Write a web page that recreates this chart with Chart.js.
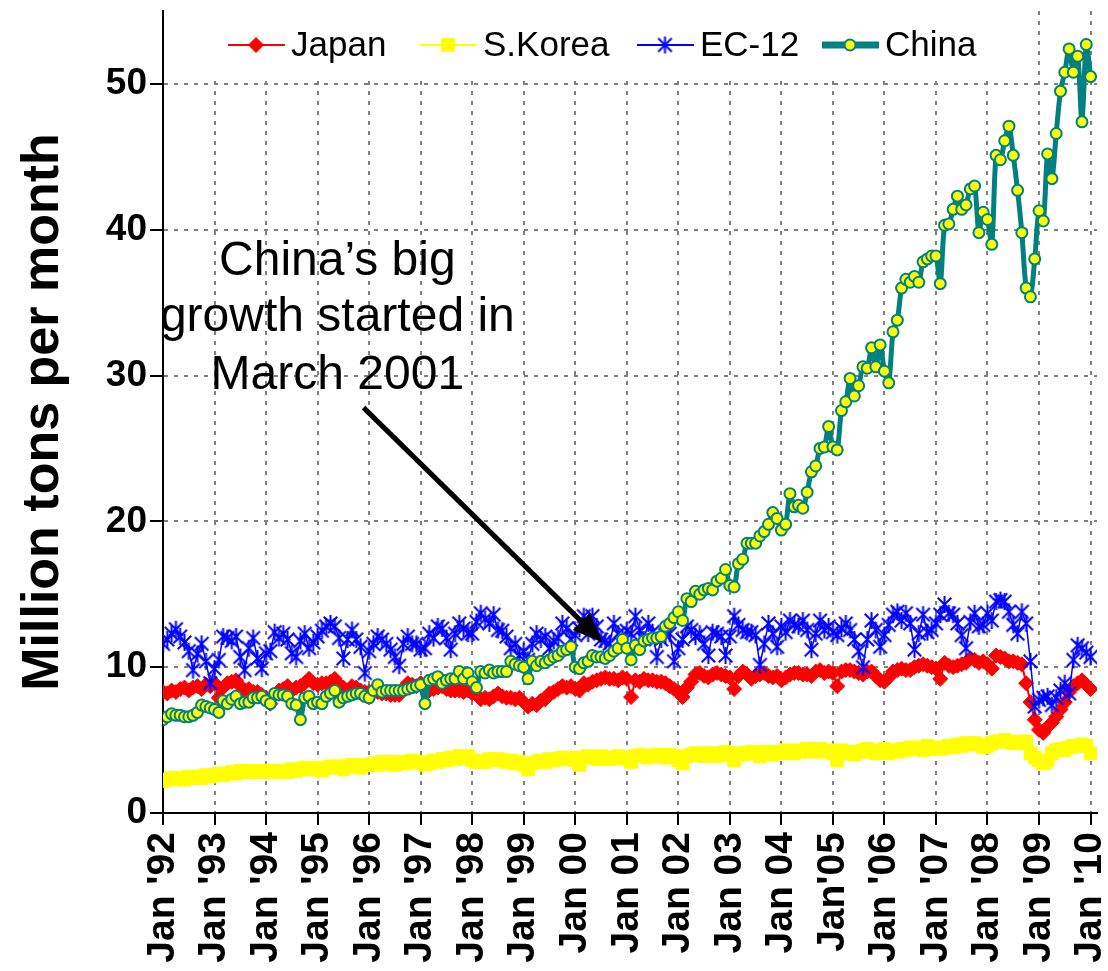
<!DOCTYPE html>
<html>
<head>
<meta charset="utf-8">
<script src="https://cdn.jsdelivr.net/npm/chart.js@4.4.1/dist/chart.umd.min.js"></script>
<style>
  html, body { margin: 0; padding: 0; background: #ffffff; }
  canvas { display: block; }
</style>
</head>
<body>
<canvas id="chart" width="1108" height="971"></canvas>
<script>
// Monthly steel output, Jan 1992 .. Jan 2010 (one value per month, 217 points)
const FONT = "'Liberation Sans', Arial, sans-serif";

const tickLabels = [
  "Jan '92", "Jan '93", "Jan '94", "Jan '95", "Jan '96", "Jan '97", "Jan '98",
  "Jan '99", "Jan 00", "Jan 01", "Jan 02", "Jan 03", "Jan 04", "Jan'05",
  "Jan '06", "Jan '07", "Jan '08", "Jan '09", "Jan '10",
];
const yTicks = [0, 10, 20, 30, 40, 50];
const seriesNames = ["Japan", "S.Korea", "EC-12", "China"];

const japan = [
  8.3, 8.2, 8.4, 8.3, 8.5, 8.6, 8.4, 8.6, 8.7, 8.5, 8.8, 8.7,
  8.9, 7.9, 8.6, 8.9, 9.0, 9.1, 8.7, 8.4, 8.5, 8.3, 8.3, 8.1,
  7.9, 7.5, 8.1, 8.4, 8.5, 8.7, 8.4, 8.6, 8.7, 8.9, 9.2, 8.9,
  8.8, 8.9, 8.9, 9.0, 9.2, 8.8, 8.6, 8.4, 8.7, 8.6, 8.4, 8.3,
  8.3, 8.4, 8.3, 8.2, 8.2, 8.1, 8.1, 8.1, 8.5, 8.9, 8.8, 8.7,
  8.9, 8.6, 8.4, 8.5, 8.6, 8.7, 8.5, 8.4, 8.4, 8.4, 8.3, 8.4,
  8.2, 8.1, 7.8, 7.9, 7.8, 8.0, 8.2, 8.0, 7.9, 7.9, 7.8, 7.9,
  7.6, 7.3, 7.5, 7.4, 7.7, 7.8, 8.2, 8.3, 8.5, 8.7, 8.6, 8.7,
  8.5, 8.4, 8.9, 8.8, 9.0, 9.1, 9.2, 9.3, 9.2, 9.2, 9.1, 9.3,
  9.2, 7.95, 9.1, 9.0, 9.2, 9.1, 9.1, 9.0, 9.0, 8.9, 8.7, 8.5,
  8.3, 7.95, 8.6, 9.0, 9.5, 9.6, 9.4, 9.3, 9.5, 9.6, 9.5, 9.4,
  9.3, 8.5, 9.4, 9.7, 9.5, 9.2, 9.4, 9.5, 9.6, 9.4, 9.3, 9.4,
  9.1, 9.3, 9.5, 9.6, 9.6, 9.5, 9.5, 9.4, 9.7, 9.8, 9.6, 9.7,
  9.6, 8.7, 9.7, 9.8, 9.8, 9.7, 9.6, 9.5, 9.7, 9.7, 9.4, 9.1,
  9.0, 9.3, 9.7, 9.8, 9.9, 9.8, 9.8, 10.0, 10.1, 10.2, 10.1, 10.0,
  9.9, 9.2, 10.3, 10.1, 10.0, 10.1, 10.2, 10.3, 10.6, 10.5, 10.3, 10.4,
  10.2, 9.9, 10.8, 10.7, 10.6, 10.4, 10.4, 10.3, 10.2, 8.9, 7.6, 6.4,
  5.7, 5.5, 5.9, 6.2, 6.6, 7.1, 7.6, 8.3, 8.7, 8.9, 9.1, 8.8,
  8.5,
];

const korea = [
  2.2, 2.3, 2.4, 2.3, 2.4, 2.3, 2.5, 2.4, 2.5, 2.4, 2.6, 2.5,
  2.6, 2.7, 2.6, 2.7, 2.8, 2.7, 2.9, 2.8, 2.9, 2.8, 2.8, 2.9,
  2.8, 2.9, 2.9, 2.8, 2.9, 2.8, 3.0, 2.9, 3.0, 3.1, 3.0, 3.0,
  3.1, 2.9, 3.1, 3.2, 3.1, 3.2, 3.0, 3.2, 3.3, 3.2, 3.1, 3.3,
  3.3, 3.4, 3.3, 3.5, 3.4, 3.5, 3.3, 3.4, 3.5, 3.4, 3.6, 3.5,
  3.5, 3.3, 3.4, 3.6, 3.5, 3.7, 3.6, 3.8, 3.7, 3.9, 3.8, 3.9,
  3.6, 3.5, 3.6, 3.5, 3.7, 3.6, 3.7, 3.6, 3.5, 3.6, 3.4, 3.5,
  3.3, 3.0, 3.4, 3.5, 3.6, 3.5, 3.7, 3.6, 3.7, 3.8, 3.7, 3.8,
  3.6, 3.3, 3.8, 3.9, 3.8, 3.7, 3.9, 3.8, 3.7, 3.8, 3.9, 3.8,
  3.7, 3.5, 3.9, 4.0, 3.9, 3.8, 3.9, 4.0, 3.9, 3.8, 4.0, 3.9,
  3.6, 3.4, 3.9, 4.0, 4.1, 4.0, 3.9, 4.1, 4.0, 3.9, 4.1, 4.2,
  4.0, 3.6, 4.1, 4.0, 4.1, 4.2, 4.1, 3.9, 4.2, 4.1, 4.0, 4.2,
  4.1, 4.3, 4.2, 4.1, 4.3, 4.2, 4.4, 4.3, 4.2, 4.4, 4.2, 4.3,
  4.1, 3.6, 4.3, 4.2, 4.1, 4.0, 4.2, 4.3, 4.4, 4.2, 4.1, 4.3,
  4.4, 4.1, 4.3, 4.2, 4.4, 4.3, 4.5, 4.4, 4.5, 4.3, 4.6, 4.4,
  4.5, 4.4, 4.5, 4.6, 4.5, 4.7, 4.6, 4.8, 4.7, 4.8, 4.7, 4.5,
  4.6, 4.8, 4.9, 4.9, 5.0, 4.9, 4.8, 4.8, 4.9, 4.9, 4.1, 3.8,
  3.6, 3.4, 3.6, 4.1, 4.3, 4.4, 4.3, 4.5, 4.6, 4.6, 4.7, 4.6,
  4.1,
];

const ec12 = [
  11.6, 11.9, 12.3, 12.6, 12.1, 11.7, 11.1, 9.8, 10.9, 11.6, 10.4, 8.9,
  9.9, 10.5, 12.1, 12.0, 11.8, 12.1, 10.7, 9.8, 11.3, 12.0, 10.6, 9.9,
  10.95, 11.1, 12.4, 12.0, 12.3, 11.9, 10.95, 10.7, 11.8, 12.3, 11.3, 11.7,
  12.1, 12.5, 12.8, 13.0, 12.8, 12.0, 10.6, 11.9, 12.55, 11.9, 11.4, 9.6,
  11.1, 11.6, 12.1, 11.9, 11.6, 11.2, 10.7, 10.1, 11.6, 12.1, 11.6, 11.6,
  11.2, 11.3, 12.3, 12.0, 12.8, 12.65, 12.0, 11.2, 12.3, 13.0, 12.65, 12.3,
  12.3, 13.1, 13.7, 13.3, 13.0, 13.6, 12.55, 12.5, 12.1, 11.3, 11.6, 10.8,
  11.1, 10.5, 11.6, 12.3, 11.9, 12.1, 11.3, 11.8, 12.0, 13.0, 12.65, 11.9,
  12.2, 12.65, 13.5, 12.3, 13.5, 12.8, 11.9, 11.8, 11.6, 13.0, 12.3, 12.0,
  12.5, 12.3, 13.5, 12.55, 11.9, 13.0, 12.4, 10.7, 11.9, 12.2, 12.3, 10.4,
  11.3, 11.9, 12.8, 12.55, 12.1, 12.3, 11.6, 10.8, 12.4, 12.3, 12.1, 10.8,
  12.1, 13.5, 12.9, 12.55, 12.4, 12.4, 12.2, 10.15, 11.6, 13.0, 12.3, 11.4,
  12.8, 12.4, 13.2, 12.9, 12.8, 13.2, 12.55, 11.2, 12.3, 13.2, 12.55, 12.8,
  12.4, 12.2, 12.65, 13.0, 12.55, 11.9, 11.1, 10.0, 11.9, 13.2, 12.55, 11.4,
  12.2, 12.9, 13.6, 13.8, 13.2, 13.7, 13.0, 11.2, 12.3, 13.6, 12.4, 12.55,
  13.0, 13.6, 14.3, 13.7, 13.6, 13.0, 12.2, 11.3, 13.1, 13.7, 12.8, 12.9,
  13.7, 13.2, 14.5, 14.6, 14.5, 13.8, 12.9, 12.3, 13.8, 13.0, 10.4, 7.3,
  7.75, 7.9, 8.0, 7.4, 7.9, 8.4, 8.9, 8.2, 10.5, 11.5, 11.3, 11.0,
  10.7,
];

const china = [
  6.4, 6.6, 6.8, 6.7, 6.7, 6.6, 6.6, 6.7, 6.9, 7.4, 7.3, 7.2,
  7.1, 6.9, 7.7, 7.5, 7.8, 8.0, 7.5, 7.6, 7.6, 7.9, 7.9, 8.0,
  7.7, 7.5, 8.2, 8.1, 8.1, 8.0, 7.5, 7.4, 6.4, 7.9, 8.0, 7.5,
  7.6, 7.5, 8.0, 8.2, 8.4, 7.6, 7.9, 8.0, 8.1, 8.2, 8.2, 8.0,
  7.9, 8.4, 8.8, 8.3, 8.4, 8.4, 8.4, 8.4, 8.4, 8.5, 8.6, 8.7,
  8.8, 7.5, 9.1, 9.2, 9.35, 8.9, 9.1, 9.2, 9.2, 9.7, 9.2, 9.6,
  9.0, 8.6, 9.7, 9.6, 9.8, 9.6, 9.7, 9.7, 9.7, 10.4, 10.2, 10.1,
  10.0, 9.2, 10.4, 10.1, 10.4, 10.3, 10.5, 10.7, 10.8, 11.1, 11.2, 11.4,
  10.0, 9.9, 10.3, 10.4, 10.8, 10.7, 10.7, 10.6, 10.8, 11.1, 11.3, 11.9,
  11.3, 10.5, 11.5, 11.2, 11.8, 11.9, 12.0, 12.0, 12.1, 12.8, 13.0, 13.4,
  13.8, 13.2, 14.7, 14.5, 15.2, 15.0, 15.3, 15.4, 15.3, 15.9, 16.1, 16.7,
  15.6, 15.5, 17.1, 17.4, 18.5, 18.5, 18.5, 19.0, 19.3, 19.8, 20.6, 20.2,
  19.4, 19.8, 21.9, 21.0, 21.1, 20.9, 22.0, 23.4, 23.8, 25.0, 25.1, 26.5,
  25.1, 24.9, 27.6, 28.2, 29.8, 28.6, 29.3, 30.6, 30.5, 31.9, 30.6, 32.1,
  30.3, 29.5, 33.0, 33.8, 36.0, 36.6, 36.4, 36.8, 36.4, 37.8, 38.0, 38.2,
  38.2, 36.3, 40.3, 40.4, 41.4, 42.3, 41.4, 41.7, 42.8, 43.0, 39.8, 41.2,
  40.7, 39.0, 45.1, 44.8, 46.1, 47.1, 45.1, 42.7, 39.8, 36.0, 35.4, 38.0,
  41.3, 40.6, 45.2, 43.5, 46.6, 49.5, 50.8, 52.4, 50.8, 51.9, 47.4, 52.7,
  50.5,
];

// annotation text and arrow, in data units (month index, million tons)
const noteLines = ["China’s big", "growth started in", "March 2001"];
const noteX = 40.6;
const noteY = [37.8, 33.95, 30.0];
const arrowFrom = { x: 46.7, y: 27.8 };
const arrowTo = { x: 102.4, y: 11.7 };

const toPoints = (arr) => arr.map((v, i) => ({ x: i, y: v }));

// Excel-style asterisk marker: an X plus a vertical stroke
function makeAsterisk(size, color) {
  const cv = document.createElement("canvas");
  cv.width = size;
  cv.height = size;
  const c = cv.getContext("2d");
  const m = size / 2, r = size / 2 - 1;
  c.strokeStyle = color;
  c.lineWidth = 2;
  c.beginPath();
  c.moveTo(m, m - r); c.lineTo(m, m + r);
  c.moveTo(m - r * 0.8, m - r * 0.8); c.lineTo(m + r * 0.8, m + r * 0.8);
  c.moveTo(m + r * 0.8, m - r * 0.8); c.lineTo(m - r * 0.8, m + r * 0.8);
  c.stroke();
  return cv;
}
const asterisk = makeAsterisk(19, "#0000ff");

const noZeroLine = (ctx) =>
  ctx.tick && ctx.tick.value === 0 ? "rgba(0,0,0,0)" : "#808080";

const overlay = {
  id: "overlay",
  beforeDatasetsDraw(chart) {
    // white legend panel over the top of the grid
    const c = chart.ctx, a = chart.chartArea;
    c.save();
    c.fillStyle = "#ffffff";
    c.fillRect(a.left + 38, a.top, 792, 66);
    c.restore();
  },
  afterDraw(chart) {
    const c = chart.ctx, a = chart.chartArea;
    const xs = chart.scales.x, ys = chart.scales.y;
    const ds = chart.data.datasets;

    // legend
    const legendX = [65, 257, 474, 659];
    const ly = a.top + 34;
    c.save();
    ds.forEach((d, i) => {
      const x0 = a.left + legendX[i];
      c.strokeStyle = d.borderColor;
      c.lineWidth = d.label === "China" ? 7 : 2;
      c.beginPath();
      c.moveTo(x0, ly);
      c.lineTo(x0 + 57, ly);
      c.stroke();
      if (d.pointStyle instanceof HTMLCanvasElement) {
        const w = d.pointStyle.width;
        c.drawImage(d.pointStyle, x0 + 28 - w / 2, ly - w / 2);
      } else {
        c.fillStyle = d.pointBackgroundColor;
        c.strokeStyle = d.pointBorderColor;
        c.lineWidth = d.pointBorderWidth;
        Chart.helpers.drawPoint(c, {
          pointStyle: d.pointStyle, radius: d.pointRadius,
          rotation: 0, borderWidth: d.pointBorderWidth,
        }, x0 + 28, ly);
      }
      c.fillStyle = "#000000";
      c.font = "35px " + FONT;
      c.textAlign = "left";
      c.textBaseline = "middle";
      c.fillText(d.label, x0 + 63, ly + 1);
    });
    c.restore();

    // note text
    c.save();
    c.fillStyle = "#000000";
    c.font = "48px " + FONT;
    c.textAlign = "center";
    c.textBaseline = "middle";
    noteLines.forEach((t, i) => {
      c.fillText(t, xs.getPixelForValue(noteX), ys.getPixelForValue(noteY[i]));
    });

    // arrow
    const x1 = xs.getPixelForValue(arrowFrom.x), y1 = ys.getPixelForValue(arrowFrom.y);
    const x2 = xs.getPixelForValue(arrowTo.x), y2 = ys.getPixelForValue(arrowTo.y);
    const ang = Math.atan2(y2 - y1, x2 - x1);
    const head = 30, half = 12;
    const bx = x2 - head * Math.cos(ang), by = y2 - head * Math.sin(ang);
    c.strokeStyle = "#000000";
    c.lineWidth = 5;
    c.beginPath();
    c.moveTo(x1, y1);
    c.lineTo(bx, by);
    c.stroke();
    c.beginPath();
    c.moveTo(x2, y2);
    c.lineTo(bx + half * Math.sin(ang), by - half * Math.cos(ang));
    c.lineTo(bx - half * Math.sin(ang), by + half * Math.cos(ang));
    c.closePath();
    c.fill();
    c.restore();
  },
};

new Chart(document.getElementById("chart"), {
  type: "line",
  data: {
    datasets: [
      {
        label: seriesNames[0],
        data: toPoints(japan),
        borderColor: "#ff0000",
        borderWidth: 2,
        pointStyle: "rectRot",
        pointRadius: 7.5,
        pointBackgroundColor: "#ff0000",
        pointBorderColor: "#ff0000",
        pointBorderWidth: 1,
        order: 3,
      },
      {
        label: seriesNames[1],
        data: toPoints(korea),
        borderColor: "#ffff00",
        borderWidth: 2,
        pointStyle: "rect",
        pointRadius: 9,
        pointBackgroundColor: "#ffff00",
        pointBorderColor: "#ffff00",
        pointBorderWidth: 1,
        order: 2,
      },
      {
        label: seriesNames[2],
        data: toPoints(ec12),
        borderColor: "#0000ff",
        borderWidth: 1.5,
        pointStyle: asterisk,
        pointRadius: 9,
        pointBackgroundColor: "#0000ff",
        pointBorderColor: "#0000ff",
        pointBorderWidth: 2,
        order: 1,
      },
      {
        label: seriesNames[3],
        data: toPoints(china),
        borderColor: "#008080",
        borderWidth: 5,
        tension: 0.3,
        pointStyle: "circle",
        pointRadius: 5.5,
        pointBackgroundColor: "#ffff00",
        pointBorderColor: "#008080",
        pointBorderWidth: 2,
        order: 0,
      },
    ],
  },
  options: {
    responsive: false,
    animation: false,
    devicePixelRatio: 1,
    layout: { padding: { top: 10, right: 8, left: 0, bottom: 0 } },
    plugins: {
      legend: { display: false },
      tooltip: { enabled: false },
    },
    scales: {
      x: {
        type: "linear",
        min: 0,
        max: 217.5,
        afterBuildTicks: (s) => {
          s.ticks = tickLabels.map((_, i) => ({ value: i * 12 }));
        },
        afterFit: (s) => {
          s.height = 158;
          s.paddingLeft = 0;
          s.paddingRight = 0;
        },
        ticks: {
          autoSkip: false,
          minRotation: 90,
          maxRotation: 90,
          padding: 7,
          color: "#000000",
          font: { family: FONT, size: 39, weight: "bold" },
          callback: (v) => tickLabels[Math.round(v / 12)],
        },
        grid: {
          color: noZeroLine,
          lineWidth: 2,
          tickColor: "#000000",
          tickLength: 12,
          tickWidth: 2,
          tickBorderDash: [],
        },
        border: { color: "#000000", width: 2, dash: [4, 6] },
      },
      y: {
        min: 0,
        max: 55,
        afterBuildTicks: (s) => {
          s.ticks = yTicks.map((v) => ({ value: v }));
        },
        afterFit: (s) => {
          s.width = 163;
          s.paddingTop = 0;
          s.paddingBottom = 0;
        },
        ticks: {
          padding: 3,
          color: "#000000",
          font: { family: FONT, size: 37, weight: "bold" },
        },
        grid: {
          color: noZeroLine,
          lineWidth: 2,
          tickColor: "#000000",
          tickLength: 13,
          tickWidth: 2,
          tickBorderDash: [],
        },
        border: { color: "#000000", width: 2, dash: [4, 6] },
        title: {
          display: true,
          text: "Million tons per month",
          color: "#000000",
          font: { family: FONT, size: 52, weight: "bold" },
          padding: { top: 12, bottom: 0 },
        },
      },
    },
  },
  plugins: [overlay],
});
</script>
</body>
</html>
